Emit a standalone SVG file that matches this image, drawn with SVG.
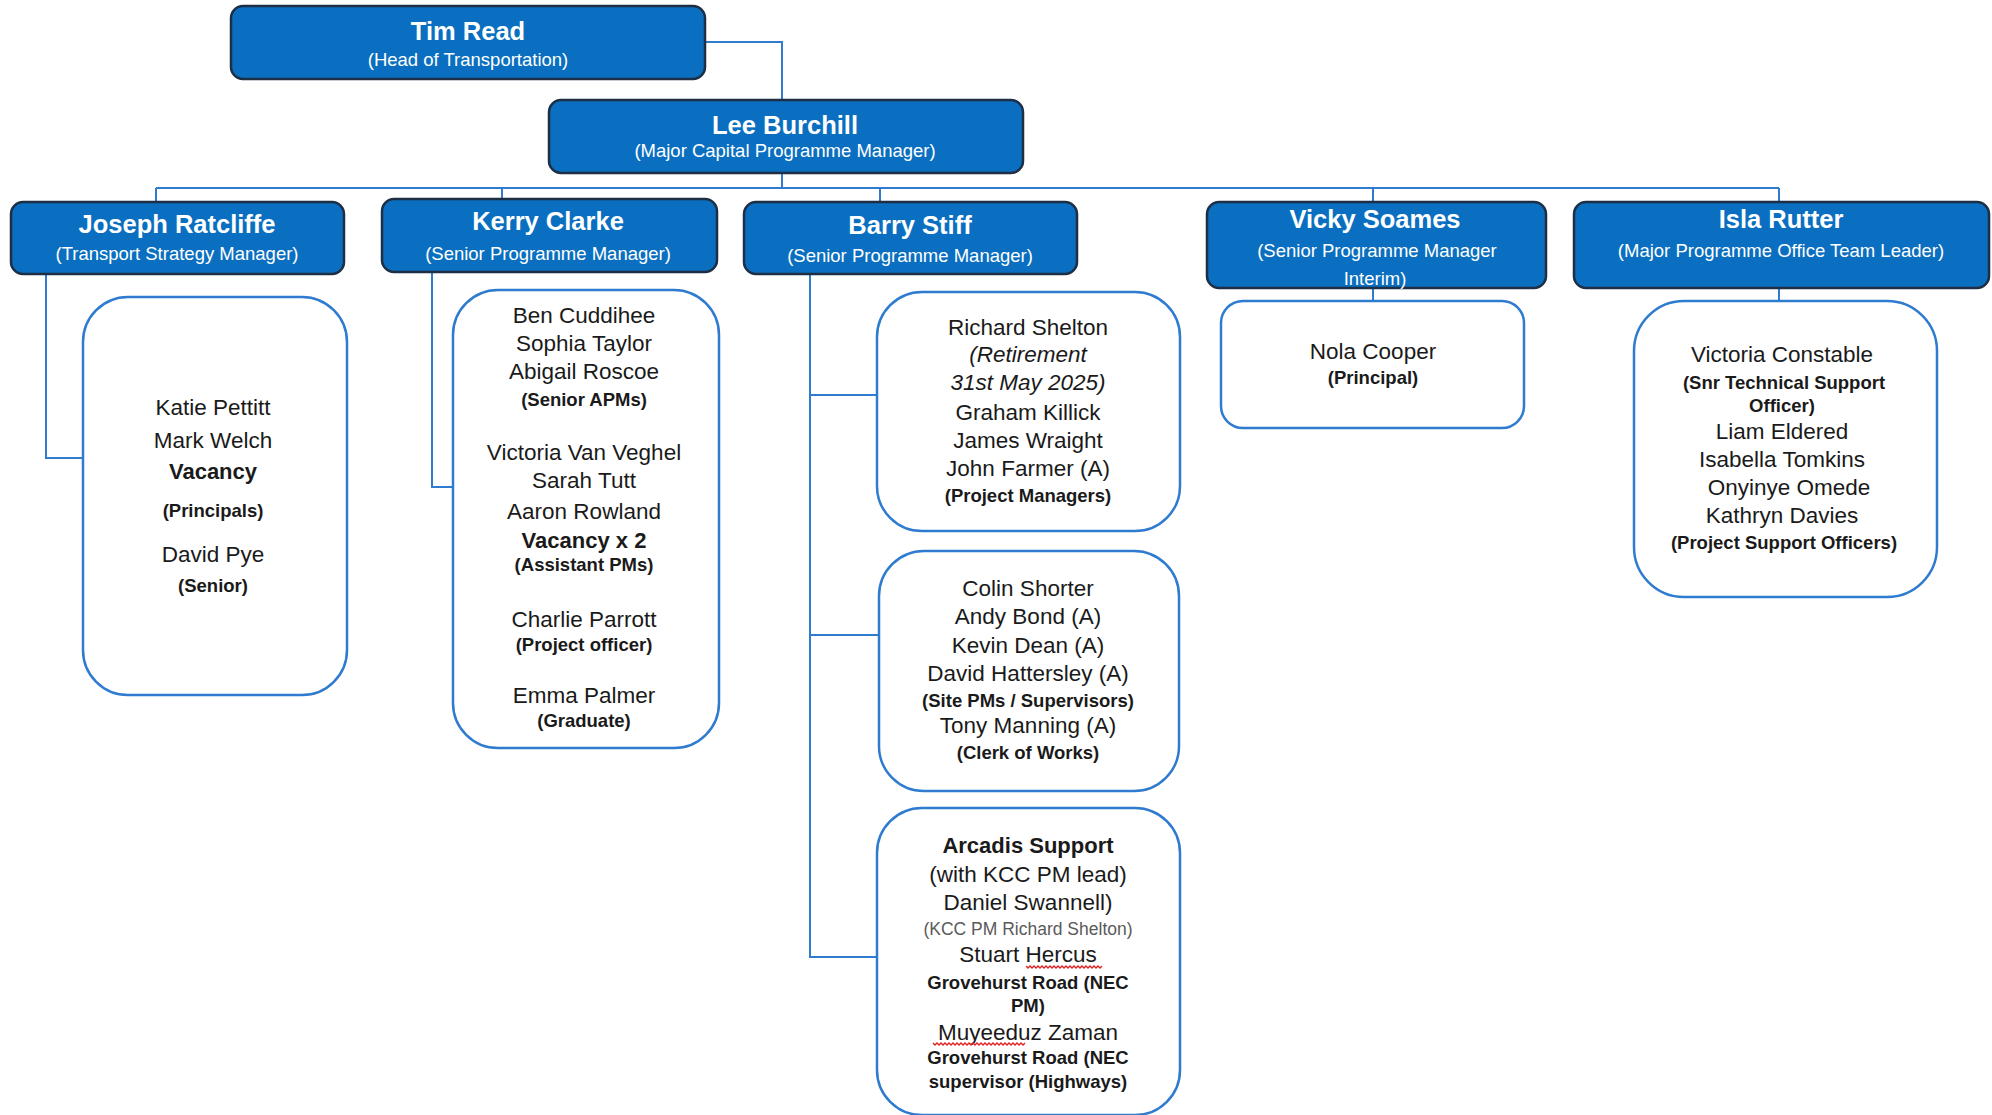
<svg xmlns="http://www.w3.org/2000/svg" width="1992" height="1115" viewBox="0 0 1992 1115">
<style>
.hd{fill:#0a6fc0;stroke:#1c2f45;stroke-width:2.5}
.ch{fill:#ffffff;stroke:#2e7bcf;stroke-width:2.5}
.cn{fill:none;stroke:#2e7bcf;stroke-width:2}
text{font-family:"Liberation Sans",Arial,sans-serif;text-anchor:middle}
.hn{fill:#ffffff;font-size:25.5px;font-weight:bold}
.hs{fill:#ffffff;font-size:18.5px}
.n{fill:#1a1a1a;font-size:22.5px}
.nb{fill:#1a1a1a;font-size:22px;font-weight:bold}
.r{fill:#1a1a1a;font-size:18.5px;font-weight:bold}
.it{fill:#1a1a1a;font-size:22.5px;font-style:italic}
.g{fill:#5a5a5a;font-size:17.5px}
.sq{fill:none;stroke:#e02020;stroke-width:1.3}
</style>
<g id="connectors">
<path class="cn" d="M705,42 H782 V100"/>
<path class="cn" d="M782,173 V188"/>
<path class="cn" d="M156,188 H1779"/>
<path class="cn" d="M156,188 V202 M502,188 V199 M880,188 V202 M1373,188 V202 M1779,188 V202"/>
<path class="cn" d="M46,274 V458 H83"/>
<path class="cn" d="M432,272 V487 H453"/>
<path class="cn" d="M810,274 V957 H877 M810,395 H877 M810,635 H879"/>
<path class="cn" d="M1373,288 V301 M1779,288 V301"/>
</g>
<g id="tim-read">
<rect class="hd" x="231" y="6" width="474" height="73" rx="12"/>
<text class="hn" x="468" y="39.5">Tim Read</text>
<text class="hs" x="468" y="66">(Head of Transportation)</text>
</g>
<g id="lee-burchill">
<rect class="hd" x="549" y="100" width="474" height="73" rx="12"/>
<text class="hn" x="785" y="133.5">Lee Burchill</text>
<text class="hs" x="785" y="156.5">(Major Capital Programme Manager)</text>
</g>
<g id="joseph-ratcliffe">
<rect class="hd" x="11" y="202" width="333" height="72" rx="12"/>
<text class="hn" x="177" y="233">Joseph Ratcliffe</text>
<text class="hs" x="177" y="259.5">(Transport Strategy Manager)</text>
</g>
<g id="kerry-clarke">
<rect class="hd" x="382" y="199" width="335" height="73" rx="12"/>
<text class="hn" x="548" y="230">Kerry Clarke</text>
<text class="hs" x="548" y="259.5">(Senior Programme Manager)</text>
</g>
<g id="barry-stiff">
<rect class="hd" x="744" y="202" width="333" height="72" rx="12"/>
<text class="hn" x="910" y="234">Barry Stiff</text>
<text class="hs" x="910" y="261.5">(Senior Programme Manager)</text>
</g>
<g id="vicky-soames">
<rect class="hd" x="1207" y="202" width="339" height="86" rx="12"/>
<text class="hn" x="1375" y="227.5">Vicky Soames</text>
<text class="hs" x="1377" y="256.5">(Senior Programme Manager</text>
<text class="hs" x="1375" y="284.5">Interim)</text>
</g>
<g id="isla-rutter">
<rect class="hd" x="1574" y="202" width="415" height="86" rx="12"/>
<text class="hn" x="1781" y="227.5">Isla Rutter</text>
<text class="hs" x="1781" y="256.5">(Major Programme Office Team Leader)</text>
</g>
<g id="joseph-team">
<rect class="ch" x="83" y="297" width="264" height="398" rx="45"/>
<text class="n" x="213" y="414.5">Katie Pettitt</text>
<text class="n" x="213" y="447.5">Mark Welch</text>
<text class="nb" x="213" y="479">Vacancy</text>
<text class="r" x="213" y="517">(Principals)</text>
<text class="n" x="213" y="562">David Pye</text>
<text class="r" x="213" y="592">(Senior)</text>
</g>
<g id="kerry-team">
<rect class="ch" x="453" y="290" width="266" height="458" rx="45"/>
<text class="n" x="584" y="323">Ben Cuddihee</text>
<text class="n" x="584" y="351">Sophia Taylor</text>
<text class="n" x="584" y="379">Abigail Roscoe</text>
<text class="r" x="584" y="405.5">(Senior APMs)</text>
<text class="n" x="584" y="460">Victoria Van Veghel</text>
<text class="n" x="584" y="488">Sarah Tutt</text>
<text class="n" x="584" y="519">Aaron Rowland</text>
<text class="nb" x="584" y="548">Vacancy x 2</text>
<text class="r" x="584" y="570.5">(Assistant PMs)</text>
<text class="n" x="584" y="627">Charlie Parrott</text>
<text class="r" x="584" y="650.5">(Project officer)</text>
<text class="n" x="584" y="703">Emma Palmer</text>
<text class="r" x="584" y="726.5">(Graduate)</text>
</g>
<g id="barry-project-managers">
<rect class="ch" x="877" y="292" width="303" height="239" rx="45"/>
<text class="n" x="1028" y="334.5">Richard Shelton</text>
<text class="it" x="1028" y="362">(Retirement</text>
<text class="it" x="1028" y="390">31st May 2025)</text>
<text class="n" x="1028" y="419.5">Graham Killick</text>
<text class="n" x="1028" y="447.5">James Wraight</text>
<text class="n" x="1028" y="475.5">John Farmer (A)</text>
<text class="r" x="1028" y="502">(Project Managers)</text>
</g>
<g id="barry-site">
<rect class="ch" x="879" y="551" width="300" height="240" rx="45"/>
<text class="n" x="1028" y="596">Colin Shorter</text>
<text class="n" x="1028" y="624">Andy Bond (A)</text>
<text class="n" x="1028" y="653">Kevin Dean (A)</text>
<text class="n" x="1028" y="681">David Hattersley (A)</text>
<text class="r" x="1028" y="706.5">(Site PMs / Supervisors)</text>
<text class="n" x="1028" y="733">Tony Manning (A)</text>
<text class="r" x="1028" y="758.5">(Clerk of Works)</text>
</g>
<g id="barry-arcadis">
<rect class="ch" x="877" y="808" width="303" height="307" rx="45"/>
<text class="nb" x="1028" y="853">Arcadis Support</text>
<text class="n" x="1028" y="882">(with KCC PM lead)</text>
<text class="n" x="1028" y="910">Daniel Swannell)</text>
<text class="g" x="1028" y="935">(KCC PM Richard Shelton)</text>
<text class="n" x="1028" y="962">Stuart Hercus</text>
<path class="sq" d="M1026,966 l2,2 2,-2 2,2 2,-2 2,2 2,-2 2,2 2,-2 2,2 2,-2 2,2 2,-2 2,2 2,-2 2,2 2,-2 2,2 2,-2 2,2 2,-2 2,2 2,-2 2,2 2,-2 2,2 2,-2 2,2 2,-2 2,2 2,-2 2,2 2,-2 2,2 2,-2 2,2 2,-2 2,2 2,-2"/>
<text class="r" x="1028" y="988.5">Grovehurst Road (NEC</text>
<text class="r" x="1028" y="1011.5">PM)</text>
<text class="n" x="1028" y="1039.5">Muyeeduz Zaman</text>
<path class="sq" d="M933,1043 l2,2 2,-2 2,2 2,-2 2,2 2,-2 2,2 2,-2 2,2 2,-2 2,2 2,-2 2,2 2,-2 2,2 2,-2 2,2 2,-2 2,2 2,-2 2,2 2,-2 2,2 2,-2 2,2 2,-2 2,2 2,-2 2,2 2,-2 2,2 2,-2 2,2 2,-2 2,2 2,-2 2,2 2,-2 2,2 2,-2 2,2 2,-2 2,2 2,-2 2,2 2,-2"/>
<text class="r" x="1028" y="1063.5">Grovehurst Road (NEC</text>
<text class="r" x="1028" y="1087.5">supervisor (Highways)</text>
</g>
<g id="vicky-team">
<rect class="ch" x="1221" y="301" width="303" height="127" rx="22"/>
<text class="n" x="1373" y="358.5">Nola Cooper</text>
<text class="r" x="1373" y="383.5">(Principal)</text>
</g>
<g id="isla-team">
<rect class="ch" x="1634" y="301" width="303" height="296" rx="50"/>
<text class="n" x="1782" y="362">Victoria Constable</text>
<text class="r" x="1784" y="388.5">(Snr Technical Support</text>
<text class="r" x="1782" y="411.5">Officer)</text>
<text class="n" x="1782" y="438.5">Liam Eldered</text>
<text class="n" x="1782" y="466.5">Isabella Tomkins</text>
<text class="n" x="1789" y="494.5">Onyinye Omede</text>
<text class="n" x="1782" y="522.5">Kathryn Davies</text>
<text class="r" x="1784" y="549">(Project Support Officers)</text>
</g>
</svg>
